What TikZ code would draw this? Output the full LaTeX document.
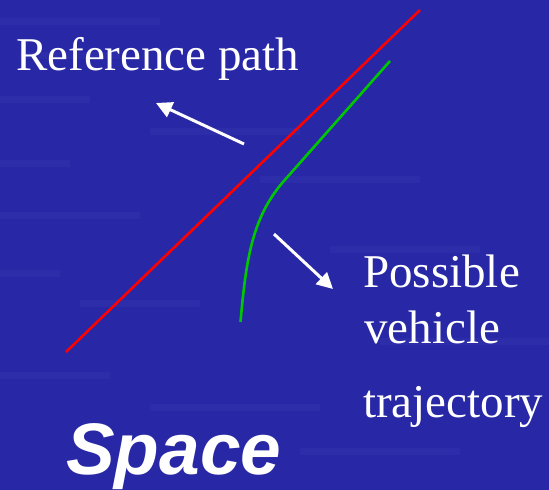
\documentclass[tikz,border=0pt]{standalone}
\usepackage{fontspec}
\setmainfont{Liberation Serif}
\newfontfamily\spacefont{Liberation Sans}
\usepackage{tikz}
\usetikzlibrary{arrows.meta}
\definecolor{slideblue}{RGB}{40,40,166}
\definecolor{streak}{RGB}{120,120,210}
\definecolor{trajgreen}{RGB}{0,200,0}

\begin{document}
\begin{tikzpicture}[
  x=1pt, y=-1pt,
  lbl/.style={text=white, inner sep=0pt, anchor=base west,
              font=\fontsize{47}{56}\selectfont},
  pointer/.style={-{Triangle[length=16pt, width=16pt]}, white, line width=3pt},
  refpath/.style={red, line width=2.6pt},
  trajpath/.style={trajgreen, line width=2.6pt}
]
% background
\fill[slideblue] (0,0) rectangle (549,490);
\useasboundingbox (0,0) rectangle (549,490);
\foreach \yy/\xa/\xb in {18/0/160, 52/20/120, 96/0/90, 128/150/300, 160/0/70,
                         176/260/420, 212/0/140, 246/330/480, 270/0/60,
                         300/80/200, 338/380/549, 372/0/110, 404/150/320, 448/300/460}
  \fill[streak, opacity=0.07] (\xa,\yy) rectangle (\xb,\yy+7);

% reference path and trajectory
\coordinate (refA) at (66,352);
\coordinate (refB) at (420,10);
\draw[refpath] (refA) -- (refB);
\coordinate (trajA) at (240.5,322);
\coordinate (trajK) at (283,182);
\coordinate (trajB) at (390,61);
\draw[trajpath] (trajA) .. controls (246,260) and (252,218) .. (trajK) -- (trajB);

% pointers
\coordinate (refTail) at (244,144);
\coordinate (refTip) at (156,103);
\draw[pointer] (refTail) -- (refTip);
\coordinate (trajTail) at (274,234);
\coordinate (trajTip) at (333,289);
\draw[pointer] (trajTail) -- (trajTip);

% labels
\node[lbl] (reflabel) at (16,70) {Reference path};
\node[lbl] (possible) at (363,287) {Possible};
\node[lbl] (vehicle) at (364,343) {vehicle};
\node[lbl] (trajectory) at (363,417) {trajectory};
\node[text=white, inner sep=0pt, anchor=base west,
      font=\spacefont\bfseries\itshape\fontsize{73}{80}\selectfont] (space) at (66,474) {Space};
\end{tikzpicture}
\end{document}
